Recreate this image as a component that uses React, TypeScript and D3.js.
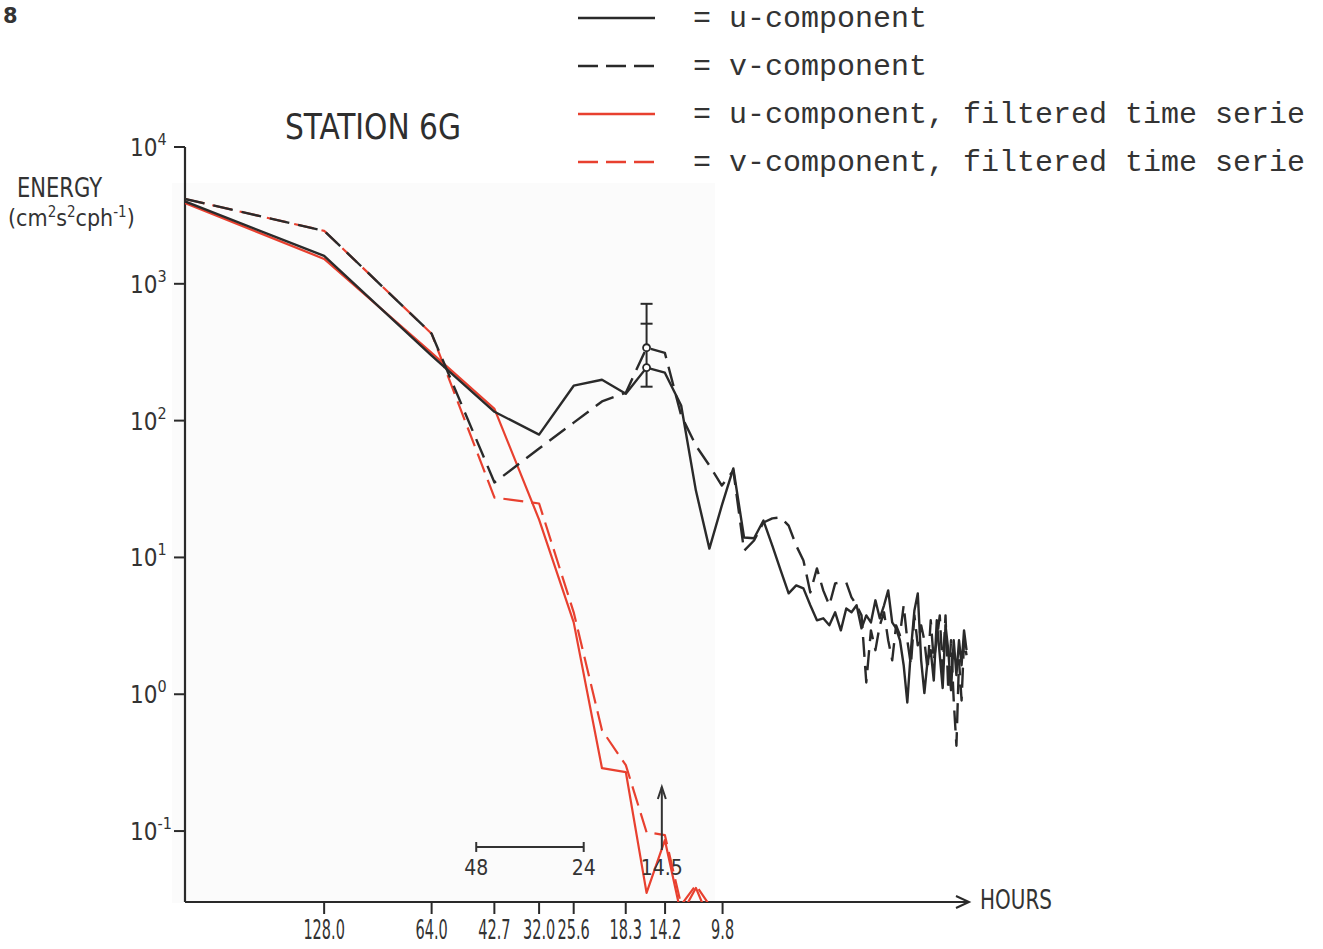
import * as d3 from "d3";

// periods (hours) of the spectral estimates; the first one sits on the energy axis
const periods = [
  314, 128, 64, 42.67, 32, 25.6, 21.33, 18.29, 16, 14.22, 12.8, 11.64, 10.67,
  9.846, 9.143, 8.533, 8, 7.529, 7.111, 6.737, 6.4, 6.095, 5.818, 5.565, 5.333,
  5.12, 4.923, 4.741, 4.571, 4.414, 4.267, 4.129, 4.0, 3.879, 3.765, 3.657,
  3.556, 3.459, 3.368, 3.282, 3.2, 3.122, 3.048, 2.977, 2.909, 2.844, 2.783,
  2.723, 2.667, 2.612, 2.56, 2.51, 2.462, 2.415, 2.37, 2.327, 2.286, 2.246,
  2.207, 2.169, 2.133, 2.098, 2.065, 2.032,
];

// energy, cm2 s-2 cph-1
const uEnergy = [
  4000, 1600, 298, 116, 79, 180, 199, 157, 244, 224, 129, 30.8, 11.6, 24, 44.7,
  14.0, 13.8, 18.6, 12.2, 8.04, 5.46, 6.25, 5.94, 4.47, 3.47, 3.59, 3.19, 3.97,
  2.93, 4.24, 3.97, 4.47, 3.03, 3.77, 3.35, 4.86, 3.59, 4.47, 5.74, 3.35, 3.03,
  2.48, 1.63, 0.87, 2.1, 4.1, 5.46, 1.77, 1.02, 1.77, 2.1, 1.26, 3.47, 1.93,
  1.11, 3.19, 2.1, 1.07, 2.48, 1.38, 2.48, 1.63, 2.93, 2.1,
];
const vEnergy = [
  4170, 2440, 432, 35.3, 62.5, 96.7, 138, 160, 341, 313, 109, 65.7, 47, 33.5,
  43.2, 11.2, 13.3, 18.0, 19.3, 19.6, 17.1, 12.2, 9.51, 5.55, 8.31, 5.74, 4.47,
  6.46, 6.57, 6.57, 5.11, 4.47, 3.77, 1.22, 2.93, 2.1, 3.19, 3.97, 2.48, 1.77,
  3.19, 2.7, 4.47, 2.48, 1.63, 3.77, 2.28, 3.19, 2.48, 1.5, 3.47, 1.77, 2.48,
  3.77, 1.5, 3.77, 1.07, 2.48, 0.9, 0.42, 1.77, 0.9, 2.48, 1.93,
];
const uFiltered = [
  3900, 1520, 313, 122, 18.9, 3.35, 0.288, 0.27, 0.0353, 0.086, 0.0244, 0.0384,
  0.0224,
];
const vFiltered = [
  4170, 2440, 432, 27.4, 24.8, 3.97, 0.546, 0.303, 0.098, 0.0935, 0.0288,
  0.0403, 0.0288,
];

// confidence bar at the inertial peak
const errPeriod = 16;
const errCaps = [177, 511, 714];
const peakMarks = [244, 341];

const yTicks = [0.1, 1, 10, 100, 1000, 10000];
const yExp = ["-1", "0", "1", "2", "3", "4"];
const xTicks = [128, 64, 42.7, 32, 25.6, 18.3, 14.2, 9.8];
const xLabels = ["128.0", "64.0", "42.7", "32.0", "25.6", "18.3", "14.2", "9.8"];

const legendLabels = [
  "= u-component",
  "= v-component",
  "= u-component, filtered time serie",
  "= v-component, filtered time serie",
];

const BLACK = "#2a2a2a";
const RED = "#e8402f";
const COND = "'DejaVu Sans Condensed', 'DejaVu Sans', sans-serif";

const x = d3.scaleLog().domain([314, 2]).range([185, 969]);
const y = d3.scaleLog().domain([0.0303, 1e4]).range([902, 147]);

const line = d3
  .line<[number, number]>()
  .x((d) => x(d[0]))
  .y((d) => y(d[1]));

const pts = (vals: number[]) =>
  vals.map((v, i) => [periods[i], v] as [number, number]);

const App = () => {
  const x0 = x.range()[0];
  const xEnd = x.range()[1];
  const yBase = y.range()[0];
  const yTop = y.range()[1];
  const ex = x(errPeriod);
  const barY = y(0.0765);
  const arrowX = x(14.5);

  const series = [
    { d: pts(uFiltered), color: RED, dash: null, w: 2.2 },
    { d: pts(vFiltered), color: RED, dash: "20,8", w: 2.2 },
    { d: pts(uEnergy), color: BLACK, dash: null, w: 2.4 },
    { d: pts(vEnergy), color: BLACK, dash: "20,9", w: 2.4 },
  ];
  const legendStyles = [
    { color: BLACK, dash: null },
    { color: BLACK, dash: "20,8" },
    { color: RED, dash: null },
    { color: RED, dash: "20,8" },
  ];

  return (
    <svg
      width={1323}
      height={949}
      style={{ position: "absolute", left: 0, top: 0, background: "#fff" }}
    >
      <defs>
        <clipPath id="plot">
          <rect x={x0} y={120} width={820} height={yBase - 120} />
        </clipPath>
      </defs>
      <rect x={172} y={183} width={543} height={720} fill="#fbfbfb" />

      <text x={3} y={23} fontFamily="DejaVu Sans" fontWeight="bold" fontSize={21} fill="#333">
        8
      </text>
      <text
        x={285}
        y={139}
        fontFamily={COND}
        fontSize={36}
        textLength={176}
        lengthAdjust="spacingAndGlyphs"
        fill="#2e2e2e"
      >
        STATION 6G
      </text>

      {/* legend */}
      {legendLabels.map((t, i) => (
        <g key={t}>
          <line
            x1={578}
            x2={655}
            y1={18 + i * 48}
            y2={18 + i * 48}
            stroke={legendStyles[i].color}
            strokeWidth={2.6}
            strokeDasharray={legendStyles[i].dash ?? undefined}
          />
          <text
            x={693}
            y={27 + i * 48}
            fontFamily="'Liberation Mono', monospace"
            fontSize={30}
            fill="#333"
          >
            {t}
          </text>
        </g>
      ))}

      {/* y axis */}
      <text x={17} y={197} fontFamily={COND} fontSize={26} textLength={85} lengthAdjust="spacingAndGlyphs" fill="#333">
        ENERGY
      </text>
      <text x={8} y={226} fontFamily={COND} fontSize={23} fill="#333">
        (cm<tspan dy={-9} fontSize={15}>2</tspan>
        <tspan dy={9}>s</tspan>
        <tspan dy={-9} fontSize={15}>2</tspan>
        <tspan dy={9}>cph</tspan>
        <tspan dy={-9} fontSize={15}>-1</tspan>
        <tspan dy={9}>)</tspan>
      </text>
      <line x1={x0} x2={x0} y1={yTop} y2={yBase} stroke={BLACK} strokeWidth={2.2} />
      {yTicks.map((t, i) => (
        <g key={t}>
          <line x1={x0 - 11} x2={x0} y1={y(t)} y2={y(t)} stroke={BLACK} strokeWidth={2} />
          <text x={130} y={y(t) + 9} fontFamily={COND} fontSize={24} fill="#333">
            10
            <tspan dy={-11} fontSize={16}>
              {yExp[i]}
            </tspan>
          </text>
        </g>
      ))}

      {/* x axis */}
      <line x1={x0} x2={xEnd} y1={yBase} y2={yBase} stroke={BLACK} strokeWidth={2.2} />
      <path
        d={`M${xEnd - 13},${yBase - 6} L${xEnd},${yBase} L${xEnd - 13},${yBase + 6}`}
        fill="none"
        stroke={BLACK}
        strokeWidth={2}
      />
      <text x={980} y={909} fontFamily={COND} fontSize={26} textLength={72} lengthAdjust="spacingAndGlyphs" fill="#333">
        HOURS
      </text>
      {xTicks.map((t, i) => (
        <g key={t}>
          <line x1={x(t)} x2={x(t)} y1={yBase} y2={yBase + 12} stroke={BLACK} strokeWidth={2} />
          <text
            transform={`translate(${x(t)},939) scale(0.62,1)`}
            textAnchor="middle"
            fontFamily={COND}
            fontSize={26}
            fill="#333"
          >
            {xLabels[i]}
          </text>
        </g>
      ))}

      {/* spectra */}
      <g clipPath="url(#plot)" fill="none" strokeLinejoin="round">
        {series.map((s, i) => (
          <path
            key={i}
            d={line(s.d) ?? ""}
            stroke={s.color}
            strokeWidth={s.w}
            strokeDasharray={s.dash ?? undefined}
          />
        ))}
      </g>

      {/* error bar */}
      <line x1={ex} x2={ex} y1={y(errCaps[0])} y2={y(errCaps[2])} stroke={BLACK} strokeWidth={2} />
      {errCaps.map((c) => (
        <line key={c} x1={ex - 6} x2={ex + 6} y1={y(c)} y2={y(c)} stroke={BLACK} strokeWidth={2} />
      ))}
      {peakMarks.map((p) => (
        <circle key={p} cx={ex} cy={y(p)} r={3.5} fill="#fff" stroke={BLACK} strokeWidth={1.8} />
      ))}

      {/* period annotations */}
      <line x1={x(48)} x2={x(24)} y1={barY} y2={barY} stroke="#333" strokeWidth={2} />
      <line x1={x(48)} x2={x(48)} y1={barY - 5} y2={barY + 5} stroke="#333" strokeWidth={2} />
      <line x1={x(24)} x2={x(24)} y1={barY - 5} y2={barY + 5} stroke="#333" strokeWidth={2} />
      <text x={x(48)} y={875} textAnchor="middle" fontFamily={COND} fontSize={21} fill="#333">
        48
      </text>
      <text x={x(24)} y={875} textAnchor="middle" fontFamily={COND} fontSize={21} fill="#333">
        24
      </text>
      <line x1={arrowX} x2={arrowX} y1={850} y2={y(0.21)} stroke="#333" strokeWidth={2} />
      <path
        d={`M${arrowX - 4},${y(0.21) + 12} L${arrowX},${y(0.21)} L${arrowX + 4},${y(0.21) + 12}`}
        fill="none"
        stroke="#333"
        strokeWidth={2}
      />
      <text x={arrowX} y={875} textAnchor="middle" fontFamily={COND} fontSize={21} fill="#333">
        14.5
      </text>
    </svg>
  );
};

export default App;
